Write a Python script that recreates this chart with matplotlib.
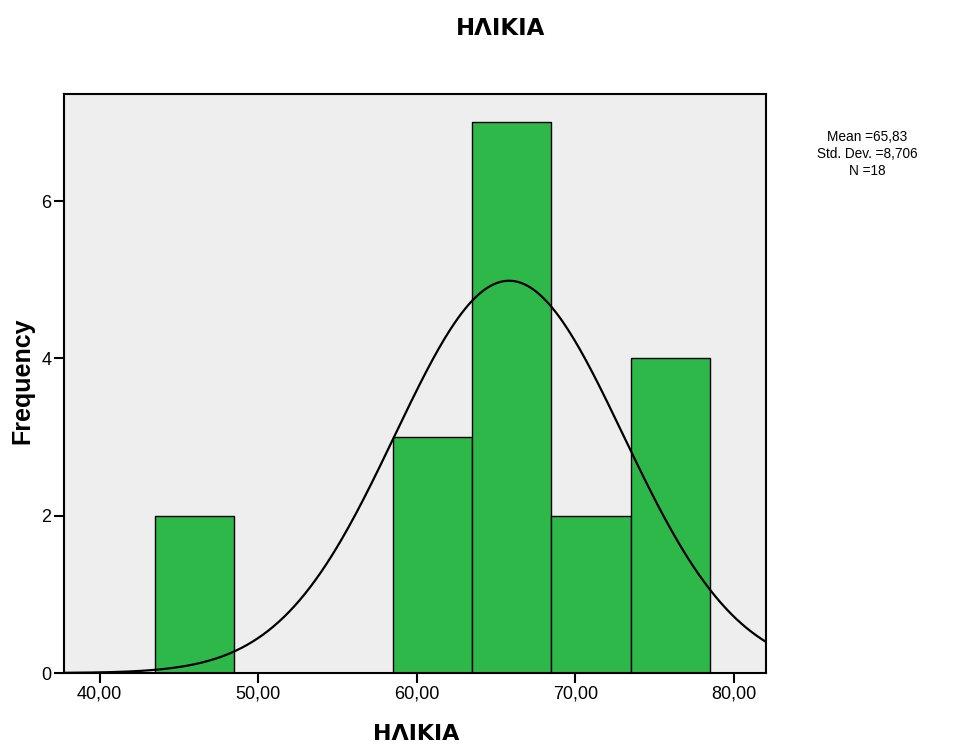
import numpy as np
import matplotlib.pyplot as plt

# histogram data (bin edges and counts)
bin_edges = [43.5, 48.5, 53.5, 58.5, 63.5, 68.5, 73.5, 78.5]
counts = [2, 0, 0, 3, 7, 2, 4]

mean = 65.83
std_dev = 8.706
n = 18
curve_sd = 7.2  # spread of the drawn normal curve as it appears in the chart

xticks = [40, 50, 60, 70, 80]
yticks = [0, 2, 4, 6]

fig = plt.figure(figsize=(9.59, 7.44), dpi=100)
ax = fig.add_axes([0.0667, 0.0954, 0.7321, 0.7782])
ax.set_facecolor('#eeeeee')

lefts = bin_edges[:-1]
widths = np.diff(bin_edges)
ax.bar(lefts, counts, width=widths, align='edge', color='#2fb84a',
       edgecolor='black', linewidth=1.0, zorder=2)

x = np.linspace(37.75, 82.04, 400)
binw = widths[0]
y = n * binw * np.exp(-0.5 * ((x - mean) / curve_sd) ** 2) / (curve_sd * np.sqrt(2 * np.pi))
ax.plot(x, y, color='black', linewidth=1.6, zorder=3)

ax.set_xlim(37.75, 82.04)
ax.set_ylim(0, 7.36)
ax.set_xticks(xticks)
ax.set_xticklabels(['{:.2f}'.format(v).replace('.', ',') for v in xticks])
ax.set_yticks(yticks)
ax.tick_params(direction='out', length=7, width=1.5, labelsize=13, pad=2,
               labelfontfamily='Liberation Sans')
for s in ax.spines.values():
    s.set_linewidth(1.5)

fig.text(0.522, 0.962, 'ΗΛΙΚΙΑ', ha='center', va='center',
         fontsize=16.5, fontweight='bold', family='DejaVu Sans')
fig.text(0.434, 0.0, 'ΗΛΙΚΙΑ', ha='center', va='bottom',
         fontsize=16, fontweight='bold', family='DejaVu Sans')
fig.text(0.023, 0.488, 'Frequency', rotation=90, ha='center', va='center',
         fontsize=18, fontweight='bold', family='Liberation Sans')

stats = 'Mean =' + '{:.2f}'.format(mean).replace('.', ',') + '\n' \
        'Std. Dev. =' + '{:.3f}'.format(std_dev).replace('.', ',') + '\n' \
        'N =' + str(n)
fig.text(0.904, 0.793, stats, ha='center', va='center', fontsize=9.8,
         linespacing=1.28, family='Liberation Sans')

fig.savefig('out.png', dpi=100)
